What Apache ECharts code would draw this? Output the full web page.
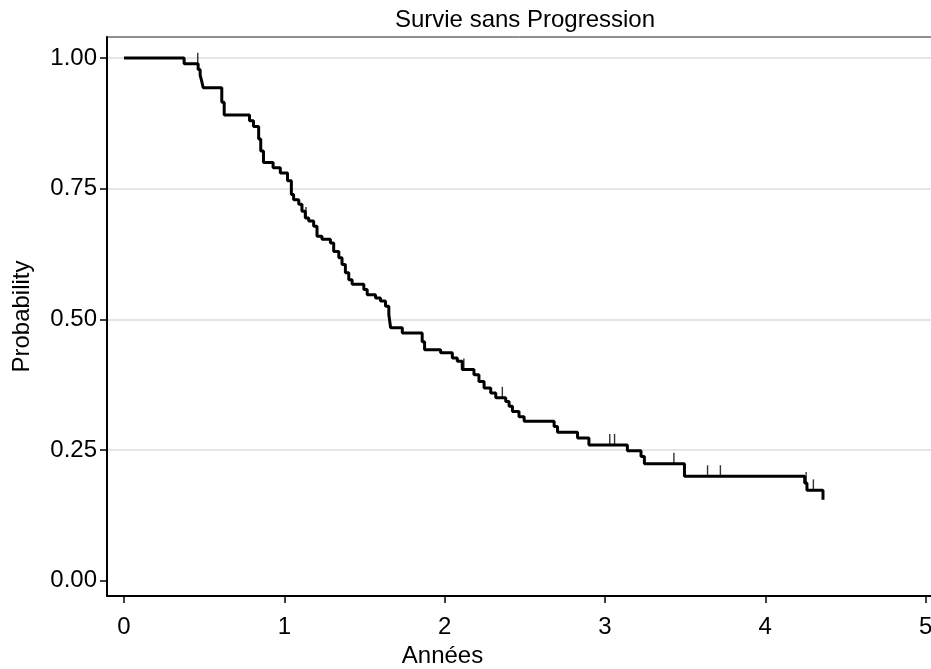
<!DOCTYPE html>
<html>
<head>
<meta charset="utf-8">
<script src="https://cdn.jsdelivr.net/npm/echarts@6/dist/echarts.min.js"></script>
<style>
  html, body { margin: 0; padding: 0; background: #fff; }
  #chart { width: 931px; height: 669px; }
</style>
</head>
<body>
<div id="chart"></div>
<script>
// Kaplan-Meier steps: time (years) of each drop, survival after it
const stepTimes = [0, 0.375, 0.4625, 0.475, 0.485, 0.494, 0.61, 0.625, 0.783, 0.808,
  0.84, 0.853, 0.87, 0.93, 0.975, 1.02, 1.044, 1.058, 1.09, 1.11,
  1.131, 1.152, 1.183, 1.204, 1.235, 1.2875, 1.308, 1.34, 1.36, 1.381,
  1.402, 1.423, 1.496, 1.517, 1.569, 1.6, 1.631, 1.652, 1.663, 1.736,
  1.86, 1.875, 1.975, 2.048, 2.079, 2.11, 2.183, 2.214, 2.246, 2.2875,
  2.319, 2.381, 2.402, 2.423, 2.464, 2.496, 2.683, 2.704, 2.829, 2.9,
  3.14, 3.225, 3.246, 3.496, 4.246, 4.26, 4.36];
const stepSurv = [1.0, 0.989, 0.978, 0.967, 0.955, 0.943, 0.915, 0.891, 0.880, 0.869,
  0.845, 0.822, 0.800, 0.790, 0.780, 0.765, 0.739, 0.729, 0.720, 0.707,
  0.694, 0.688, 0.678, 0.659, 0.653, 0.646, 0.630, 0.618, 0.605, 0.589,
  0.576, 0.567, 0.557, 0.547, 0.541, 0.535, 0.525, 0.509, 0.484, 0.474,
  0.457, 0.442, 0.436, 0.426, 0.420, 0.404, 0.394, 0.381, 0.369, 0.359,
  0.350, 0.343, 0.334, 0.324, 0.314, 0.305, 0.295, 0.284, 0.273, 0.260,
  0.249, 0.238, 0.224, 0.200, 0.187, 0.173, 0.155];

// censored observations (tick marks)
const censorTimes = [0.46, 1.135, 2.12, 2.36, 3.03, 3.06, 3.43, 3.64, 3.72, 4.255, 4.30];

const xTicks = [0, 1, 2, 3, 4, 5];
const yTicks = [0, 0.25, 0.5, 0.75, 1];

const FONT = '"Liberation Sans", Arial, Helvetica, sans-serif';

// survival at a given time from the step function
const survAt = (t) => {
  let s = stepSurv[0];
  for (let i = 0; i < stepTimes.length; i++) {
    if (stepTimes[i] <= t) s = stepSurv[i];
  }
  return s;
};

const curve = stepTimes.map((t, i) => [t, stepSurv[i]]);
const censors = censorTimes.map(t => [t, survAt(t)]);

const chart = echarts.init(document.getElementById('chart'));

chart.setOption({
  animation: false,
  backgroundColor: '#fff',
  title: {
    text: 'Survie sans Progression',
    left: 520,
    textAlign: 'center',
    top: 3,
    textStyle: { fontFamily: FONT, fontSize: 24, fontWeight: 'normal', color: '#000' }
  },
  grid: {
    left: 107,
    right: -1,
    top: 37,
    bottom: 73,
    outerBoundsMode: 'none',
    containLabel: false,
    show: true,
    borderColor: '#222',
    borderWidth: 1
  },
  xAxis: {
    type: 'value',
    min: -0.106,
    max: 5.04,
    name: 'Années',
    nameLocation: 'middle',
    nameGap: 36,
    nameTextStyle: { fontFamily: FONT, fontSize: 24, color: '#000', padding: [0, 154, 0, 0] },
    axisLine: { show: true, onZero: false, lineStyle: { color: '#000', width: 2 } },
    axisTick: { show: true, length: 7, lineStyle: { color: '#000', width: 1.5 }, customValues: xTicks },
    axisLabel: { customValues: xTicks, margin: 19, fontFamily: FONT, fontSize: 24, color: '#000' },
    splitLine: { show: false }
  },
  yAxis: {
    type: 'value',
    min: -0.029,
    max: 1.04,
    name: 'Probability',
    nameLocation: 'middle',
    nameRotate: 90,
    nameGap: 73,
    nameTextStyle: { fontFamily: FONT, fontSize: 24, color: '#000' },
    axisLine: { show: true, onZero: false, lineStyle: { color: '#000', width: 2 } },
    axisTick: { show: true, length: 7, lineStyle: { color: '#000', width: 1.5 }, customValues: yTicks },
    axisLabel: {
      customValues: yTicks,
      margin: 10,
      fontFamily: FONT,
      fontSize: 24,
      color: '#000',
      formatter: v => v.toFixed(2)
    },
    splitLine: {
      show: true,
      lineStyle: { color: ['rgba(0,0,0,0)', '#dcdcdc', '#dcdcdc', '#dcdcdc', '#dcdcdc'], width: 1.5 }
    }
  },
  series: [
    {
      type: 'line',
      step: 'end',
      data: curve,
      showSymbol: false,
      lineStyle: { color: '#000', width: 3 },
      z: 3
    },
    {
      type: 'scatter',
      data: censors,
      symbol: 'rect',
      symbolSize: [1.4, 11],
      symbolOffset: [0, -5.5],
      itemStyle: { color: '#000' },
      z: 4
    }
  ]
});
</script>
</body>
</html>
